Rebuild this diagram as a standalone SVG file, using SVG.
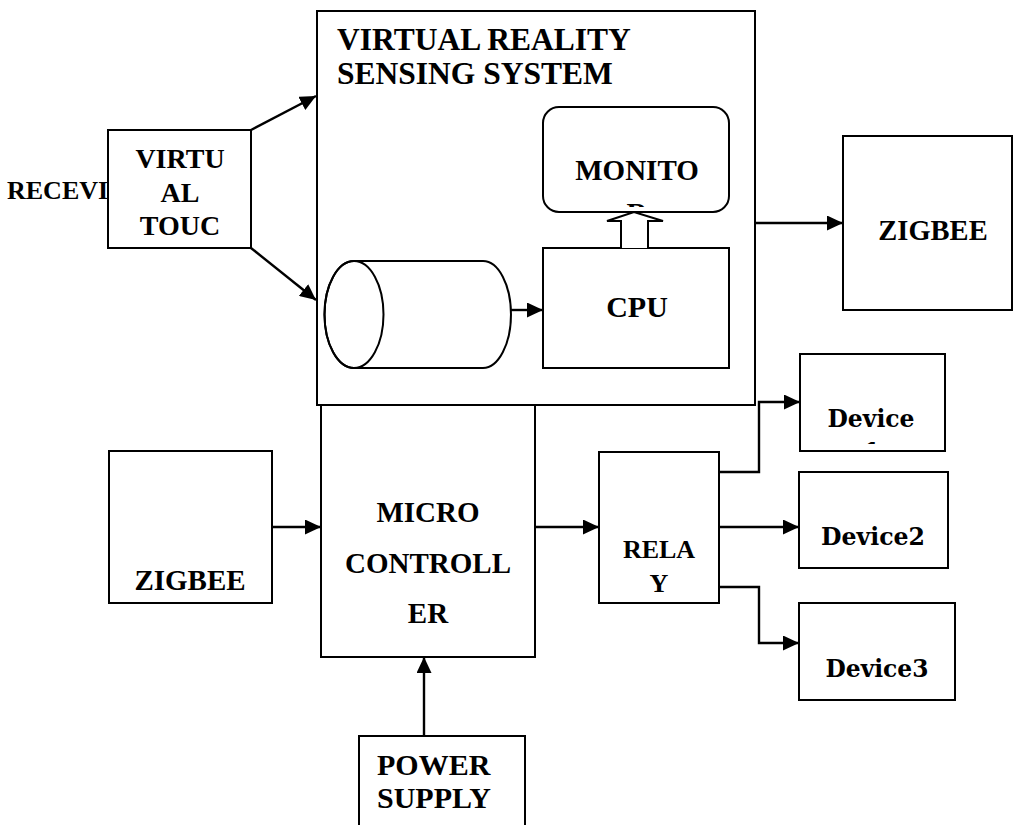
<svg xmlns="http://www.w3.org/2000/svg" width="1013" height="825" viewBox="0 0 1013 825">
<style>
.box{fill:#fff;stroke:#000;stroke-width:2}
.t{font-family:"Liberation Serif","Times New Roman",serif;font-weight:bold;fill:#000}
.d{font-family:"DejaVu Serif",serif;font-weight:bold;fill:#000}
.c{fill:none;stroke:#000;stroke-width:2.4}
</style>
<defs>
<marker id="ah" markerUnits="userSpaceOnUse" markerWidth="16" markerHeight="15" refX="16" refY="7.5" orient="auto">
<path d="M0,0 L16,7.5 L0,15 z" fill="#000"/>
</marker>
<clipPath id="monClip"><rect x="545" y="109" width="182" height="98"/></clipPath>
<clipPath id="dev1Clip"><rect x="801" y="356" width="143" height="88"/></clipPath>
</defs>
<rect width="1013" height="825" fill="#fff"/>

<g id="receiver">
<text class="t" x="7" y="199" font-size="26">RECEVI</text>
</g>

<g id="virtual-touch">
<rect class="box" x="108" y="130" width="143" height="118"/>
<text class="t" x="180" y="168" font-size="28" text-anchor="middle">VIRTU</text>
<text class="t" x="180" y="202" font-size="28" text-anchor="middle">AL</text>
<text class="t" x="180" y="235" font-size="28" text-anchor="middle">TOUC</text>
</g>

<g id="vr-system">
<rect class="box" x="317" y="11" width="438" height="394"/>
<text class="t" x="337" y="50" font-size="31.5">VIRTUAL REALITY</text>
<text class="t" x="337" y="84" font-size="31.5">SENSING SYSTEM</text>
</g>

<g id="monitor">
<rect class="box" x="543" y="107" width="186" height="105" rx="16"/>
<g clip-path="url(#monClip)">
<text class="t" x="637" y="180" font-size="29" text-anchor="middle">MONITO</text>
<text class="t" x="637" y="223" font-size="29" text-anchor="middle">R</text>
</g>
</g>

<g id="storage">
<path class="box" d="M354,261 L483,261 A28,53.5 0 0 1 483,368 L354,368 A29.5,53.5 0 0 1 354,261 Z"/>
<ellipse cx="354" cy="314.5" rx="29.5" ry="53.5" fill="none" stroke="#000" stroke-width="2"/>
</g>

<g id="cpu">
<rect class="box" x="543" y="248" width="186" height="120"/>
<text class="t" x="637" y="317" font-size="30" text-anchor="middle">CPU</text>
</g>

<g id="zigbee-tx">
<rect class="box" x="843" y="136" width="169" height="174"/>
<text class="t" x="933" y="240" font-size="28.5" text-anchor="middle">ZIGBEE</text>
</g>

<g id="zigbee-rx">
<rect class="box" x="109" y="451" width="163" height="152"/>
<text class="t" x="190" y="590" font-size="29" text-anchor="middle">ZIGBEE</text>
</g>

<g id="microcontroller">
<rect class="box" x="321" y="405" width="214" height="252"/>
<text class="t" x="428" y="522" font-size="29" text-anchor="middle">MICRO</text>
<text class="t" x="428" y="573" font-size="29" text-anchor="middle">CONTROLL</text>
<text class="t" x="428" y="623" font-size="29" text-anchor="middle">ER</text>
</g>

<g id="relay">
<rect class="box" x="599" y="452" width="120" height="151"/>
<text class="t" x="659" y="558" font-size="26" text-anchor="middle">RELA</text>
<text class="t" x="659" y="592" font-size="26" text-anchor="middle">Y</text>
</g>

<g id="device1">
<rect class="box" x="800" y="354" width="145" height="97"/>
<g clip-path="url(#dev1Clip)">
<text class="d" x="871" y="427" font-size="25" text-anchor="middle" textLength="87" lengthAdjust="spacingAndGlyphs">Device</text>
<text class="d" x="872" y="460" font-size="25" text-anchor="middle">1</text>
</g>
</g>

<g id="device2">
<rect class="box" x="799" y="472" width="149" height="96"/>
<text class="d" x="873" y="545" font-size="25" text-anchor="middle" textLength="104" lengthAdjust="spacingAndGlyphs">Device2</text>
</g>

<g id="device3">
<rect class="box" x="799" y="603" width="156" height="97"/>
<text class="d" x="877" y="677" font-size="25" text-anchor="middle" textLength="103" lengthAdjust="spacingAndGlyphs">Device3</text>
</g>

<g id="power-supply">
<rect class="box" x="359" y="736" width="166" height="110"/>
<text class="t" x="377" y="775" font-size="30">POWER</text>
<text class="t" x="377" y="808" font-size="30">SUPPLY</text>
</g>

<g id="connectors">
<line class="c" x1="251" y1="130" x2="316" y2="96" marker-end="url(#ah)"/>
<line class="c" x1="251" y1="248" x2="316" y2="300" marker-end="url(#ah)"/>
<line class="c" x1="511" y1="310" x2="543" y2="310" marker-end="url(#ah)"/>
<path d="M621,248 L621,221 L607,221 L634,212 L663,221 L648,221 L648,248" fill="#fff" stroke="#000" stroke-width="2"/>
<line class="c" x1="755" y1="223" x2="843" y2="223" marker-end="url(#ah)"/>
<line class="c" x1="272" y1="527" x2="321" y2="527" marker-end="url(#ah)"/>
<line class="c" x1="535" y1="527" x2="599" y2="527" marker-end="url(#ah)"/>
<polyline class="c" points="719,472 759,472 759,402 800,402" marker-end="url(#ah)"/>
<line class="c" x1="719" y1="527" x2="799" y2="527" marker-end="url(#ah)"/>
<polyline class="c" points="719,587 759,587 759,643 799,643" marker-end="url(#ah)"/>
<line class="c" x1="424" y1="736" x2="424" y2="657" marker-end="url(#ah)"/>
</g>
</svg>
